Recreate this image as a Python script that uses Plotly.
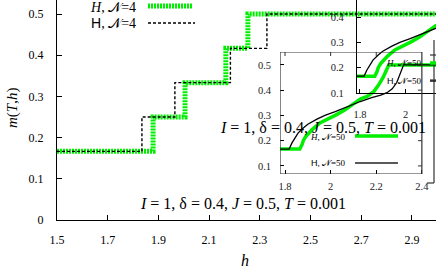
import plotly.graph_objects as go

# ---------------- data ----------------
main_h_green = [1.5, 1.879, 2.005, 2.166, 2.253, 3.0]
main_h_black = [1.5, 1.835, 1.965, 2.184, 2.328, 3.0]
main_m = [1/6, 0.25, 1/3, 5/12, 0.5, 0.5]

n50_h_green = [1.70, 1.865, 1.875, 1.88, 1.89, 1.90, 1.92, 1.953, 1.99, 2.02, 2.06, 2.10,
               2.13, 2.16, 2.19, 2.21, 2.23, 2.245, 2.255, 2.6]
n50_m_green = [1/6, 1/6, 0.185, 0.20, 0.215, 0.225, 0.245, 0.27, 0.285, 0.30, 0.32, 0.345,
               0.365, 0.375, 0.395, 0.42, 0.45, 0.48, 0.5, 0.5]
n50_h_black = [1.70, 1.818, 1.83, 1.845, 1.857, 1.88, 1.90, 1.94, 1.975, 2.02, 2.06, 2.10,
               2.13, 2.18, 2.22, 2.247, 2.27, 2.29, 2.30, 2.313, 2.32, 2.6]
n50_m_black = [1/6, 1/6, 0.19, 0.215, 0.23, 0.25, 0.265, 0.285, 0.30, 0.315, 0.33, 0.345,
               0.355, 0.37, 0.38, 0.39, 0.405, 0.43, 0.455, 0.49, 0.5, 0.5]

main_xticks = [1.5, 1.7, 1.9, 2.1, 2.3, 2.5, 2.7, 2.9]
main_yticks = [0, 0.1, 0.2, 0.3, 0.4, 0.5]
inset_xticks = [1.8, 2.0, 2.2, 2.4]
inset_yticks = [0.1, 0.2, 0.3, 0.4, 0.5]

label_green4 = "<i>H</i>, 𝒩=4"
label_black4 = "<span style='font-family:Liberation Sans'>H</span>, 𝒩=4"
label_green50 = "<i>H</i>, 𝒩=50"
label_black50 = "<span style='font-family:Liberation Sans'>H</span>, 𝒩=50"
param_text = "<i>I</i> = 1, δ = 0.4, <i>J</i> = 0.5, <i>T</i> = 0.001"

# ---------------- layout helpers ----------------
W, H = 436, 270
ML, MR, MT, MB = 57, 0, 0, 50
PW, PH = W - ML - MR, H - MT - MB


def px(x):
    return (x - ML) / PW


def py(y):
    return (H - MB - y) / PH


GREEN = "#00ee00"
SERIF = "Liberation Serif, Times New Roman, serif"

fig = go.Figure()

# main curves
fig.add_trace(go.Scatter(x=main_h_green, y=main_m, mode="lines", line_shape="hv",
                         line=dict(color=GREEN, width=5, dash="2px,1px"),
                         xaxis="x", yaxis="y", showlegend=False))
fig.add_trace(go.Scatter(x=main_h_black, y=main_m, mode="lines", line_shape="hv",
                         line=dict(color="black", width=1.4, dash="3px,2px"),
                         xaxis="x", yaxis="y", showlegend=False))

# inset A and inset B curves (same data)
for xa, ya in (("x2", "y2"), ("x3", "y3")):
    fig.add_trace(go.Scatter(x=n50_h_green, y=n50_m_green, mode="lines",
                             line=dict(color=GREEN, width=3.5),
                             xaxis=xa, yaxis=ya, showlegend=False))
    fig.add_trace(go.Scatter(x=n50_h_black, y=n50_m_black, mode="lines",
                             line=dict(color="black", width=1.3),
                             xaxis=xa, yaxis=ya, showlegend=False))

axis_common = dict(showgrid=False, zeroline=False, ticks="inside", tickcolor="black",
                   linecolor="black", color="black")
inset_font = dict(size=10.5, family=SERIF, color="#222")

fig.update_layout(
    width=W, height=H,
    margin=dict(l=ML, r=MR, t=MT, b=MB),
    paper_bgcolor="white", plot_bgcolor="rgba(0,0,0,0)",
    font=dict(family=SERIF, color="black"),
    xaxis=dict(domain=[0, 1], range=[1.5, 2.995], tickvals=main_xticks,
               ticktext=[f"{v:.1f}" for v in main_xticks], showline=True, linewidth=1.3,
               ticklen=5, tickfont=dict(size=12, family=SERIF), ticklabelstandoff=8,
               **axis_common),
    yaxis=dict(domain=[0, 1], range=[0, 0.534], tickvals=main_yticks,
               ticktext=["0"] + [f"{v:.1f}" for v in main_yticks[1:]], showline=True,
               linewidth=1.3, ticklen=5, tickfont=dict(size=12, family=SERIF),
               ticklabelstandoff=10, **axis_common),
    xaxis2=dict(domain=[px(280), 1.0], range=[1.778, 2.462], anchor="y2",
                tickvals=inset_xticks, ticktext=["1.8", "2", "2.2", "2.4"], showline=False,
                ticklen=4, tickfont=inset_font, ticklabelstandoff=4, **axis_common),
    yaxis2=dict(domain=[py(174), py(52)], range=[0.068, 0.551], anchor="x2",
                tickvals=inset_yticks, ticktext=[f"{v:.1f}" for v in inset_yticks],
                showline=False, ticklen=4, tickfont=inset_font,
                ticklabelstandoff=8, **axis_common),
    xaxis3=dict(domain=[px(357), 1.0], range=[1.787, 2.1335], anchor="y3",
                tickvals=inset_xticks[:2], ticktext=["1.8", "2"], showline=True, linewidth=1.2,
                ticklen=4, tickfont=inset_font, ticklabelstandoff=11, **axis_common),
    yaxis3=dict(domain=[py(93), 1.0], range=[0.1, 0.4676], anchor="x3",
                tickvals=inset_yticks[:4], ticktext=[f"{v:.1f}" for v in inset_yticks[:4]],
                showline=True, linewidth=1.2, ticklen=4, tickfont=inset_font,
                ticklabelstandoff=10, **axis_common),
)

shapes = []
# inset A frame
shapes.append(dict(type="rect", xref="x2", yref="y2", x0=1.778, x1=2.40, y0=0.068, y1=0.551,
                   line=dict(color="#333", width=1.2)))
# inset A mirrored ticks (top, right)
for v in inset_xticks[:3]:
    shapes.append(dict(type="line", xref="x2", yref="y2", x0=v, x1=v, y0=0.551, y1=0.535,
                       line=dict(color="#333", width=1)))
for v in inset_yticks:
    shapes.append(dict(type="line", xref="x2", yref="y2", x0=2.40, x1=2.383, y0=v, y1=v,
                       line=dict(color="#333", width=1)))
# stray right-hand frame edge
shapes.append(dict(type="line", xref="paper", yref="paper", x0=px(434), x1=px(434),
                   y0=py(40), y1=py(183), line=dict(color="#333", width=1.2)))
for yy in (55, 80):
    shapes.append(dict(type="line", xref="paper", yref="paper", x0=px(430), x1=px(436),
                       y0=py(yy), y1=py(yy), line=dict(color="#333", width=1.2)))
shapes.append(dict(type="line", xref="paper", yref="paper", x0=px(427), x1=px(434),
                   y0=py(183), y1=py(183), line=dict(color="#333", width=1.2)))

# main legend samples
shapes.append(dict(type="line", xref="paper", yref="paper", x0=px(148), x1=px(193),
                   y0=py(6), y1=py(6), line=dict(color=GREEN, width=5, dash="2px,1px")))
shapes.append(dict(type="line", xref="paper", yref="paper", x0=px(148), x1=px(195),
                   y0=py(23), y1=py(23), line=dict(color="black", width=1.4, dash="3px,2px")))
# inset A legend samples
shapes.append(dict(type="line", xref="paper", yref="paper", x0=px(355), x1=px(398),
                   y0=py(136), y1=py(136), line=dict(color=GREEN, width=3.5)))
shapes.append(dict(type="line", xref="paper", yref="paper", x0=px(355), x1=px(398),
                   y0=py(163), y1=py(163), line=dict(color="#222", width=1.6)))
# inset B legend samples (cut by the edge)
shapes.append(dict(type="line", xref="paper", yref="paper", x0=px(430), x1=px(440),
                   y0=py(63), y1=py(63), line=dict(color=GREEN, width=3.5)))
shapes.append(dict(type="line", xref="paper", yref="paper", x0=px(430), x1=px(440),
                   y0=py(81), y1=py(81), line=dict(color="#222", width=1.6)))
fig.update_layout(shapes=shapes)

ann = []


def add_text(text, x, y, size, xanchor="center", angle=0):
    ann.append(dict(text=text, xref="paper", yref="paper", x=px(x), y=py(y), showarrow=False,
                    xanchor=xanchor, yanchor="middle", textangle=angle,
                    font=dict(size=size, family=SERIF, color="black")))


add_text(label_green4, 138, 7, 14, xanchor="right")
add_text(label_black4, 138, 23, 14, xanchor="right")
add_text(label_green50, 328, 137, 9)
add_text(label_black50, 328, 163, 9)
add_text(label_green50, 404, 63, 9)
add_text(label_black50, 404, 81, 9)
add_text(param_text, 138, 203, 16, xanchor="left")
add_text(param_text, 218, 127, 16, xanchor="left")
add_text("<i>m</i>(<i>T</i>,<i>h</i>)", 12, 108, 15, angle=-90)
add_text("<i>h</i>", 245, 260, 16)
fig.update_layout(annotations=ann)

fig.write_html("out.html", config={"displayModeBar": False},
               post_script="document.body.style.margin='0';document.body.style.overflow='hidden';")
